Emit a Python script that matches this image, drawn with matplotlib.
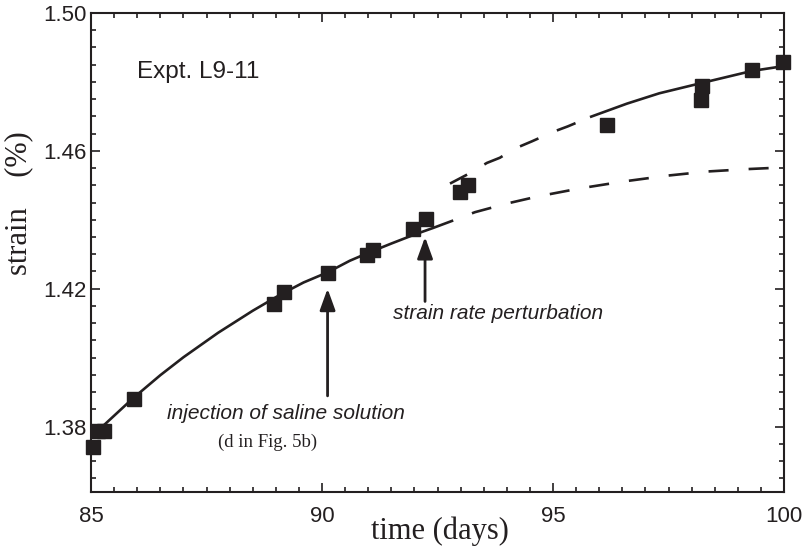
import matplotlib
matplotlib.use('Agg')
import matplotlib.pyplot as plt
from matplotlib.ticker import MultipleLocator, FixedLocator, FormatStrFormatter

ink = '#231f20'

# measured strain points (days, %)
days = [85.04, 85.15, 85.28, 85.93, 88.96, 89.17, 90.14, 90.98, 91.10,
        91.98, 92.24, 92.99, 93.16, 96.17, 98.20, 98.22, 99.31, 99.98]
strain = [1.3740, 1.3788, 1.3788, 1.3880, 1.4157, 1.4191, 1.4245, 1.4299, 1.4313,
          1.4372, 1.4402, 1.4480, 1.4502, 1.4675, 1.4747, 1.4787, 1.4836, 1.4857]

# fitted curve before the perturbation (solid)
fit_days = [85.15, 85.9, 86.5, 87.0, 87.75, 88.5, 89.1, 89.6, 90.13,
            90.6, 91.0, 91.5, 92.0, 92.4, 92.84]
fit_strain = [1.3788, 1.3881, 1.3949, 1.4001, 1.4072, 1.4136, 1.4183, 1.4218, 1.4248,
              1.4281, 1.4304, 1.4331, 1.4357, 1.4376, 1.4398]

# extrapolation without perturbation (dashed)
extrap_days = [92.84, 93.31, 94.0, 94.68, 95.58, 96.52, 97.47, 98.33, 99.2, 100.0]
extrap_strain = [1.4398, 1.4422, 1.4447, 1.4468, 1.4491, 1.4511, 1.4528, 1.4540, 1.4547, 1.4552]

# fit after the perturbation
after_days = [92.77, 93.14, 93.57, 93.85, 94.18, 94.55, 95.0, 95.32, 95.8,
              96.6, 97.3, 98.22, 99.31, 100.0]
after_strain = [1.4505, 1.4531, 1.4565, 1.4580, 1.4607, 1.4628, 1.4655, 1.4671, 1.4698,
                1.4737, 1.4767, 1.4797, 1.4832, 1.4846]

y_ticks = [1.38, 1.42, 1.46, 1.50]
x_ticks = [85, 90, 95, 100]

fig = plt.figure(figsize=(8.07, 5.56), dpi=100)
ax = fig.add_axes([0.1128, 0.1151, 0.8587, 0.8615])

lw = 1.9
dash = (7.6, (7.6, 7.6))

ax.plot(fit_days, fit_strain, color=ink, lw=lw, solid_capstyle='butt')
ax.plot(extrap_days, extrap_strain, color=ink, lw=lw, linestyle=dash, dash_capstyle='butt')
ax.plot(after_days[:2], after_strain[:2], color=ink, lw=lw, solid_capstyle='butt')
ax.plot(after_days[1:9], after_strain[1:9], color=ink, lw=lw, linestyle=dash, dash_capstyle='butt')
ax.plot(after_days[8:], after_strain[8:], color=ink, lw=lw, solid_capstyle='butt')

ax.plot(days, strain, 's', color=ink, ms=10.5, clip_on=False, zorder=3)

# arrows
arrow = dict(arrowstyle='-|>,head_length=1.3,head_width=0.47', color=ink, lw=2,
             shrinkA=0, shrinkB=0)
ax.annotate('', xy=(90.12, 1.4200), xytext=(90.12, 1.3889), arrowprops=arrow)
ax.annotate('', xy=(92.23, 1.4350), xytext=(92.23, 1.4163), arrowprops=arrow)

ax.text(89.21, 1.3837, 'injection of saline solution', fontsize=15, style='italic',
        family='Liberation Sans', color=ink, ha='center', va='center')
ax.text(88.82, 1.3754, '(d in Fig. 5b)', fontsize=13.5, family='Liberation Serif',
        color=ink, ha='center', va='center')
ax.text(93.80, 1.4128, 'strain rate perturbation', fontsize=15, style='italic',
        family='Liberation Sans', color=ink, ha='center', va='center')
ax.text(0.066, 0.877, 'Expt. L9-11', fontsize=17.5, family='Liberation Sans',
        color=ink, ha='left', va='center', transform=ax.transAxes)

ax.set_xlim(85, 100)
ax.set_ylim(1.361, 1.50)
ax.xaxis.set_major_locator(FixedLocator(x_ticks))
ax.xaxis.set_minor_locator(MultipleLocator(0.5))
ax.yaxis.set_major_locator(FixedLocator(y_ticks))
ax.yaxis.set_minor_locator(MultipleLocator(0.005))
ax.yaxis.set_major_formatter(FormatStrFormatter('%.2f'))

ax.tick_params(which='both', direction='in', top=True, right=True, color=ink, width=1.2)
ax.tick_params(which='major', length=6.5)
ax.tick_params(which='minor', length=3.8)
ax.tick_params(axis='x', pad=10)
ax.tick_params(axis='y', pad=3)
for lab in ax.get_xticklabels() + ax.get_yticklabels():
    lab.set_family('Liberation Sans')
    lab.set_fontsize(16)
    lab.set_color(ink)

for sp in ax.spines.values():
    sp.set_linewidth(1.5)
    sp.set_color(ink)

ax.set_xlabel('time (days)', fontsize=22, family='Liberation Serif', color=ink)
ax.set_ylabel('strain    (%)', fontsize=22, family='Liberation Serif', color=ink)
ax.xaxis.set_label_coords(0.504, -0.052)
ax.yaxis.set_label_coords(-0.084, 0.603)

fig.savefig('out.png', dpi=100)
